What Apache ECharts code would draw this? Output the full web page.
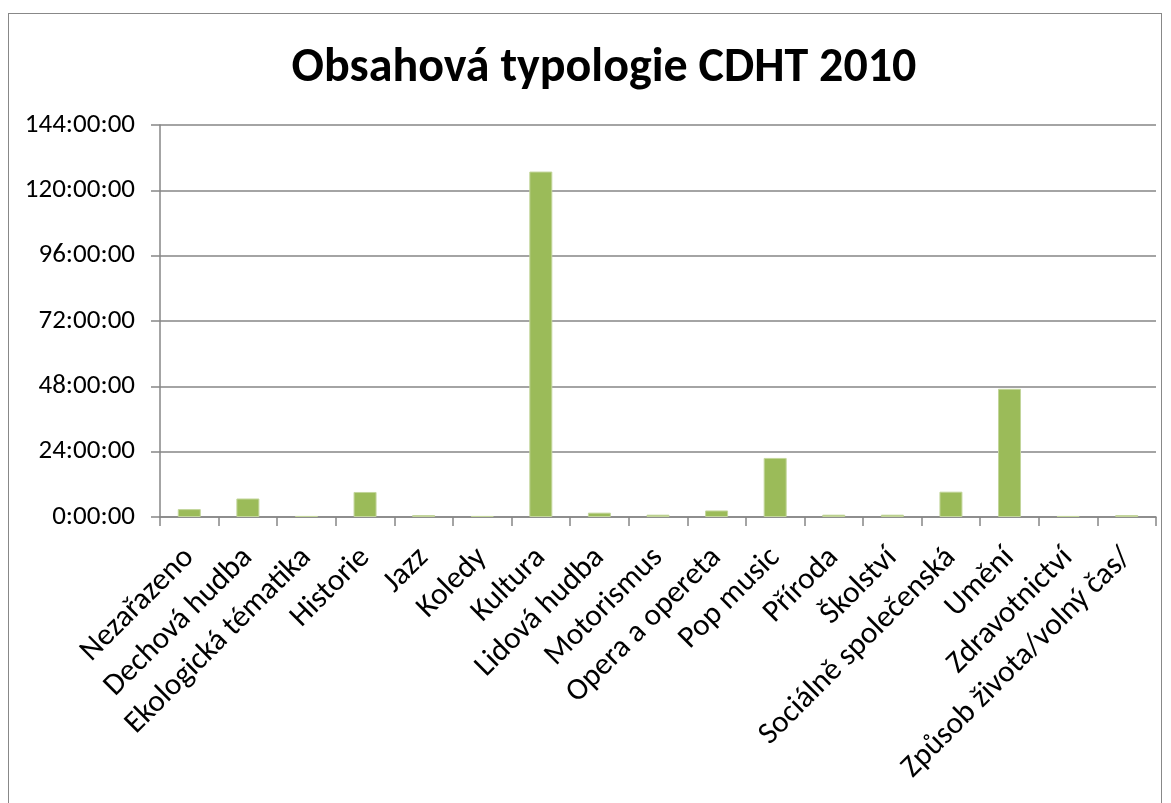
<!DOCTYPE html>
<html><head><meta charset="utf-8">
<script src="https://cdn.jsdelivr.net/npm/echarts@6/dist/echarts.min.js"></script>
<style>html,body{margin:0;padding:0;background:#fff}#c{width:1171px;height:803px}
#frame{position:absolute;left:8px;top:13px;width:1154px;height:800px;border:1px solid #888;box-sizing:border-box;pointer-events:none}</style>
</head><body><div id="c"></div><div id="frame"></div>
<script>
const titleText = "Obsahová typologie CDHT 2010";
const categories = ["Nezařazeno","Dechová hudba","Ekologická tématika","Historie","Jazz","Koledy","Kultura","Lidová hudba","Motorismus","Opera a opereta","Pop music","Příroda","Školství","Sociálně společenská","Umění","Zdravotnictví","Způsob života/volný čas/"];
const hours = [2.9,6.8,0.4,9.2,0.7,0.4,126.9,1.6,0.85,2.4,21.7,0.85,0.85,9.3,47.1,0.4,0.7];
const yMax = 144, yStep = 24;
const font = "Carlito, Calibri, 'Open Sans', 'Noto Sans', sans-serif";
const chart = echarts.init(document.getElementById('c'));
chart.setOption({
  animation:false,
  title:{text:titleText,left:599,top:40,textAlign:'center',textStyle:{fontFamily:font,fontSize:48,fontWeight:'bold',color:'#000'}},
  grid:{left:160,top:125,right:15,bottom:286},
  xAxis:{type:'category',data:categories,
    axisLine:{lineStyle:{color:'#868686',width:1.5}},
    axisTick:{show:true,length:9,lineStyle:{color:'#868686',width:1.5},alignWithLabel:false},
    axisLabel:{rotate:45,interval:0,fontFamily:font,fontSize:31,color:'#000',margin:36}},
  yAxis:{type:'value',min:0,max:yMax,interval:yStep,
    axisLine:{show:true,lineStyle:{color:'#868686',width:1.5}},
    axisTick:{show:true,length:9,lineStyle:{color:'#868686',width:1.5}},
    splitLine:{lineStyle:{color:'#868686',width:1.5}},
    axisLabel:{fontFamily:font,fontSize:27,color:'#000',margin:25,formatter:v=>v+':00:00'}},
  series:[{type:'bar',data:hours,barWidth:23,
    itemStyle:{color:'#9BBB59',borderColor:'#C3D69B',borderWidth:1}}]
});
</script></body></html>
